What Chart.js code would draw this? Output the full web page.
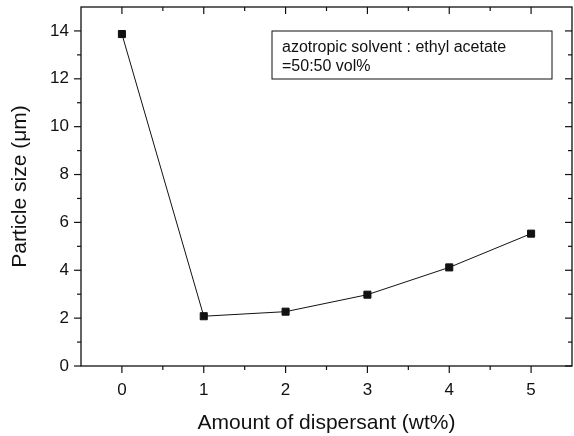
<!DOCTYPE html>
<html>
<head>
<meta charset="utf-8">
<script src="https://cdn.jsdelivr.net/npm/chart.js@4.4.1/dist/chart.umd.min.js"></script>
<style>
  html, body { margin:0; padding:0; background:#fff; }
  #wrap { width:574px; height:436px; }
</style>
</head>
<body>
<div id="wrap"><canvas id="c" width="574" height="436"></canvas></div>
<script>
// data
const dispersant = [0, 1, 2, 3, 4, 5];            // wt%
const particleSize = [13.87, 2.08, 2.27, 2.98, 4.12, 5.53]; // um

// tick values
const xMajor = [0, 1, 2, 3, 4, 5];
const xMinor = [0.5, 1.5, 2.5, 3.5, 4.5];
const yMajor = [0, 2, 4, 6, 8, 10, 12, 14];
const yMinor = [1, 3, 5, 7, 9, 11, 13];

const noteLines = ['azotropic solvent : ethyl acetate', '=50:50 vol%'];

const ink = '#111';
const FONT = 'Arial, "Liberation Sans", Helvetica, sans-serif';

// frame + tick marks (outward on left/bottom, inward on top/right)
const frameTicks = {
  id: 'frameTicks',
  afterDraw(chart){
    const {ctx, chartArea:a, scales:{x, y}} = chart;
    ctx.save();
    ctx.strokeStyle = ink;
    ctx.lineWidth = 1.3;
    ctx.strokeRect(a.left, a.top, a.right - a.left, a.bottom - a.top);
    ctx.lineWidth = 1.2;
    const tick = (x1, y1, x2, y2) => { ctx.beginPath(); ctx.moveTo(x1, y1); ctx.lineTo(x2, y2); ctx.stroke(); };
    const big = 7, small = 4;
    xMajor.forEach(v => { const px = x.getPixelForValue(v); tick(px, a.bottom, px, a.bottom + big); tick(px, a.top, px, a.top + big); });
    xMinor.forEach(v => { const px = x.getPixelForValue(v); tick(px, a.bottom, px, a.bottom + small); tick(px, a.top, px, a.top + small); });
    yMajor.forEach(v => { const py = y.getPixelForValue(v); tick(a.left, py, a.left - big, py); tick(a.right, py, a.right - big, py); });
    yMinor.forEach(v => { const py = y.getPixelForValue(v); tick(a.left, py, a.left - small, py); tick(a.right, py, a.right - small, py); });

    // note box in the upper right
    ctx.font = '16px ' + FONT;
    ctx.fillStyle = ink;
    const bx = a.left + 191, by = a.top + 24, bw = 280, bh = 48;
    ctx.lineWidth = 1;
    ctx.strokeRect(bx, by, bw, bh);
    ctx.textBaseline = 'alphabetic';
    ctx.fillText(noteLines[0], bx + 10, by + 21);
    ctx.fillText(noteLines[1], bx + 10, by + 40);
    ctx.restore();
  }
};

const ctx = document.getElementById('c').getContext('2d');
new Chart(ctx, {
  type: 'line',
  data: {
    datasets: [{
      data: dispersant.map((d, i) => ({ x: d, y: particleSize[i] })),
      borderColor: ink,
      borderWidth: 1,
      backgroundColor: ink,
      pointStyle: 'rect',
      pointRadius: 5,
      pointBorderWidth: 1,
      pointBorderColor: ink,
      pointBackgroundColor: ink,
      tension: 0
    }]
  },
  options: {
    responsive: false,
    animation: false,
    layout: { autoPadding: false, padding: { top: 7, right: 2, left: 8, bottom: 0 } },
    plugins: { legend: { display: false }, tooltip: { enabled: false } },
    scales: {
      x: {
        type: 'linear',
        min: -0.5, max: 5.5,
        grid: { display: false, drawTicks: false },
        border: { display: false },
        afterBuildTicks: s => { s.ticks = xMajor.map(v => ({ value: v })); },
        ticks: {
          padding: 14, color: ink, font: { family: FONT, size: 17 }
        },
        title: { display: true, text: 'Amount of dispersant (wt%)', color: ink,
                 font: { family: FONT, size: 21 }, padding: { top: 8, bottom: 0 } },
        afterFit: s => { s.height = 436 - 366; s.paddingLeft = 0; s.paddingRight = 0; }
      },
      y: {
        min: 0, max: 15,
        grid: { display: false, drawTicks: false },
        border: { display: false },
        afterBuildTicks: s => { s.ticks = yMajor.map(v => ({ value: v })); },
        ticks: {
          padding: 12, color: ink, font: { family: FONT, size: 17 }
        },
        title: { display: true, text: 'Particle size (\u03BCm)', color: ink,
                 font: { family: FONT, size: 21 }, padding: { top: 0, bottom: 0 } },
        afterFit: s => { s.width = 81 - 8; s.paddingTop = 0; s.paddingBottom = 0; }
      }
    }
  },
  plugins: [frameTicks]
});
</script>
</body>
</html>
